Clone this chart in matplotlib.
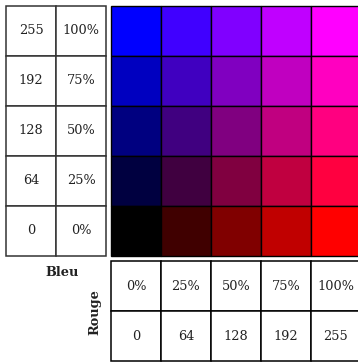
import matplotlib.pyplot as plt
from matplotlib.patches import Rectangle

# channel levels (0..255) and the matching percentages
levels = [0, 64, 128, 192, 255]
pcts = ["0%", "25%", "50%", "75%", "100%"]

cell = 50          # cell size in px
gx, gy = 111, 6    # top-left of the colour grid
lx = 6             # left edge of the blue table
by = 261           # top of the red table

fig = plt.figure(figsize=(3.58, 3.63), dpi=100)
ax = fig.add_axes([0, 0, 1, 1])
ax.set_xlim(0, 358)
ax.set_ylim(363, 0)
ax.axis("off")

font = "DejaVu Serif"
fs = 9.3
n = len(levels)

# colour grid: red grows to the right, blue grows upward
for i in range(n):
    b = levels[n - 1 - i]
    for j in range(n):
        r = levels[j]
        ax.add_patch(Rectangle((gx + j * cell, gy + i * cell), cell, cell,
                               facecolor=(r / 255, 0, b / 255),
                               edgecolor="black", lw=1.0))

# blue table on the left
for i in range(n):
    k = n - 1 - i
    y = gy + i * cell
    for c, txt in enumerate([str(levels[k]), pcts[k]]):
        ax.add_patch(Rectangle((lx + c * cell, y), cell, cell,
                               facecolor="white", edgecolor="#333333", lw=1.1))
        ax.text(lx + c * cell + cell / 2, y + cell / 2, txt, ha="center",
                va="center", fontsize=fs, family=font, color="#222222")

# red table at the bottom
for j in range(n):
    x = gx + j * cell
    for rr, txt in enumerate([pcts[j], str(levels[j])]):
        ax.add_patch(Rectangle((x, by + rr * cell), cell, cell,
                               facecolor="white", edgecolor="black", lw=1.1))
        ax.text(x + cell / 2, by + rr * cell + cell / 2, txt, ha="center",
                va="center", fontsize=fs, family=font, color="#222222")

ax.text(62, 272, "Bleu", ha="center", va="center", fontsize=fs,
        family=font, fontweight="bold", color="#222222")
ax.text(95, 312, "Rouge", ha="center", va="center", fontsize=fs,
        family=font, fontweight="bold", rotation=90, color="#222222")

fig.savefig("out.png", dpi=100)
